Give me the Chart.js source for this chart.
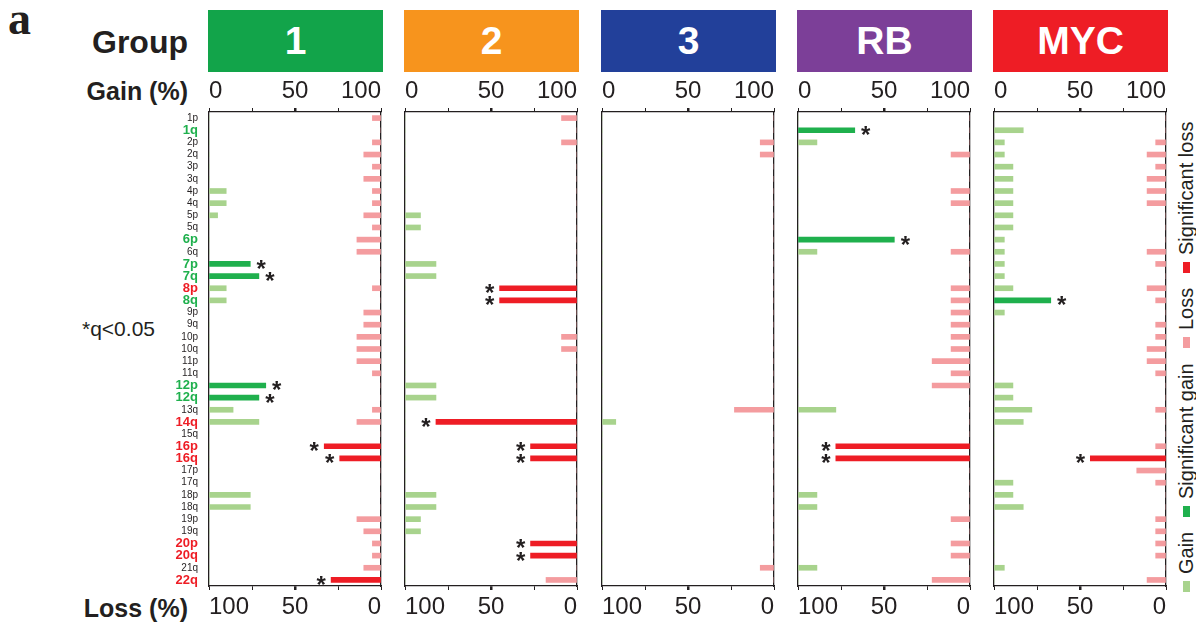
<!DOCTYPE html>
<html>
<head>
<meta charset="utf-8">
<script src="https://cdn.jsdelivr.net/npm/chart.js@4.4.1/dist/chart.umd.min.js"></script>
<style>
  body { margin: 0; background: #fff; font-family: "Liberation Sans", Arial, sans-serif; }
  #page { position: relative; width: 1196px; height: 631px; overflow: hidden; }
  .abs { position: absolute; }
  .lbl { position: absolute; font-weight: bold; color: #231f20; text-align: right; white-space: nowrap; }
  .box { position: absolute; top: 10px; height: 62px; line-height: 62px; color: #fff; font-weight: bold;
         font-size: 39px; text-align: center; }
  canvas { position: absolute; }
  #legend { position: absolute; left: 1175px; top: 106px; height: 486px; writing-mode: vertical-rl;
            transform: rotate(180deg); display: flex; align-items: center; font-size: 20px; color: #231f20; }
  #legend .sq { display: inline-block; width: 7px; height: 11px; }
</style>
</head>
<body>
<div id="page">
  <div class="abs" style="left:8px;top:-8px;font:bold 46px 'Liberation Serif',serif;color:#231f20;">a</div>
  <div class="lbl" style="right:1008px;top:22px;height:40px;line-height:40px;font-size:32px;">Group</div>
  <div class="lbl" style="right:1008px;top:71px;height:40px;line-height:40px;font-size:25px;">Gain (%)</div>
  <div class="lbl" style="right:1008px;top:588px;height:40px;line-height:40px;font-size:25px;">Loss (%)</div>
  <div class="abs" style="left:82px;top:317px;font-size:21px;color:#231f20;">*q&lt;0.05</div>
  <div id="boxes"></div>
  <div id="legend"></div>
</div>
<script>
// chromosome arms (rows, top to bottom)
const arms = ['1p','1q','2p','2q','3p','3q','4p','4q','5p','5q','6p','6q','7p','7q','8p','8q',
  '9p','9q','10p','10q','11p','11q','12p','12q','13q','14q','15q','16p','16q','17p','17q',
  '18p','18q','19p','19q','20p','20q','21q','22q'];

const groupNames = ['1', '2', '3', 'RB', 'MYC'];
const groupColors = ['#12a44a', '#f7941d', '#22409a', '#7c3f98', '#ee1d25'];

// row labels highlighted in the left column
const labelGreen = ['1q','6p','7p','7q','8q','12p','12q'];
const labelRed = ['8p','14q','16p','16q','20p','20q','22q'];

const gainTicks = [0, 25, 50, 75, 100];
const shownTicks = [0, 50, 100];

// percent of samples, per arm
const gain1 = [0,0,0,0,0,0,10,10,5,0,0,0,24,29,10,10,0,0,0,0,0,0,33,29,14,29,0,0,0,0,0,24,24,0,0,0,0,0,0];
const loss1 = [5,0,5,10,5,10,5,5,10,5,14,14,0,0,5,0,10,10,14,14,14,5,0,0,5,14,0,33,24,0,0,0,0,14,10,5,5,10,29];
const sigGain1 = ['7p','7q','12p','12q'];
const sigLoss1 = ['16p','16q','22q'];

const gain2 = [0,0,0,0,0,0,0,0,9,9,0,0,18,18,0,0,0,0,0,0,0,0,18,18,0,0,0,0,0,0,0,18,18,9,9,0,0,0,0];
const loss2 = [9,0,9,0,0,0,0,0,0,0,0,0,0,0,45,45,0,0,9,9,0,0,0,0,0,82,0,27,27,0,0,0,0,0,0,27,27,0,18];
const sigGain2 = [];
const sigLoss2 = ['8p','8q','14q','16p','16q','20p','20q'];

const gain3 = [0,0,0,0,0,0,0,0,0,0,0,0,0,0,0,0,0,0,0,0,0,0,0,0,0,8,0,0,0,0,0,0,0,0,0,0,0,0,0];
const loss3 = [0,0,8,8,0,0,0,0,0,0,0,0,0,0,0,0,0,0,0,0,0,0,0,0,23,0,0,0,0,0,0,0,0,0,0,0,0,8,0];
const sigGain3 = [];
const sigLoss3 = [];

const gainRB = [0,33,11,0,0,0,0,0,0,0,56,11,0,0,0,0,0,0,0,0,0,0,0,0,22,0,0,0,0,0,0,11,11,0,0,0,0,11,0];
const lossRB = [0,0,0,11,0,0,11,11,0,0,0,11,0,0,11,11,11,11,11,11,22,11,22,0,0,0,0,78,78,0,0,0,0,11,0,11,11,0,22];
const sigGainRB = ['1q','6p'];
const sigLossRB = ['16p','16q'];

const gainMYC = [0,17,6,6,11,11,11,11,11,11,6,6,6,6,11,33,6,0,0,0,0,0,11,11,22,17,0,0,0,0,11,11,17,0,0,0,0,6,0];
const lossMYC = [0,0,6,11,6,11,11,11,0,0,0,11,6,0,11,6,0,6,6,11,11,6,0,0,6,0,0,6,44,17,6,0,0,6,6,6,6,0,11];
const sigGainMYC = ['8q'];
const sigLossMYC = ['16q'];

const GAIN = '#a8d38d';
const SIG_GAIN = '#1fb04d';
const LOSS = '#f49c9f';
const SIG_LOSS = '#ee1d25';
const INK = '#231f20';

const panels = [
    { gain: gain1, loss: loss1, sigGain: sigGain1, sigLoss: sigLoss1 },
    { gain: gain2, loss: loss2, sigGain: sigGain2, sigLoss: sigLoss2 },
    { gain: gain3, loss: loss3, sigGain: sigGain3, sigLoss: sigLoss3 },
    { gain: gainRB, loss: lossRB, sigGain: sigGainRB, sigLoss: sigLossRB },
    { gain: gainMYC, loss: lossMYC, sigGain: sigGainMYC, sigLoss: sigLossMYC }
];

const axisLeft = [209, 405, 602, 798, 994];
const axisW = 172;

// =========================
// HEADER BOXES
// =========================

const boxes = document.getElementById('boxes');
groupNames.forEach((name, i) => {
    const d = document.createElement('div');
    d.className = 'box';
    d.style.left = (axisLeft[i] - 1) + 'px';
    d.style.width = (axisW + 3) + 'px';
    d.style.background = groupColors[i];
    d.textContent = name;
    boxes.appendChild(d);
});

// =========================
// LEGEND (rotated)
// =========================

const legendItems = [
    ['Gain', GAIN], ['Significant gain', SIG_GAIN], ['Loss', LOSS], ['Significant loss', SIG_LOSS]
];
const legend = document.getElementById('legend');
legendItems.forEach(([text, color], i) => {
    const sq = document.createElement('span');
    sq.className = 'sq';
    sq.style.background = color;
    sq.style.marginBottom = '7px';
    if (i > 0) sq.style.marginTop = '15px';
    legend.appendChild(sq);
    const t = document.createElement('span');
    t.textContent = text;
    legend.appendChild(t);
});

// =========================
// ASTERISKS
// =========================

const starPlugin = {
    id: 'stars',
    afterDatasetsDraw(chart) {
        const ctx = chart.ctx;
        const sig = chart.options.plugins.stars;
        ctx.save();
        ctx.fillStyle = INK;
        ctx.font = 'bold 24px "Liberation Sans", Arial, sans-serif';
        ctx.textAlign = 'center';
        ctx.textBaseline = 'alphabetic';
        [0, 1].forEach(di => {
            const list = di === 0 ? sig.gain : sig.loss;
            chart.getDatasetMeta(di).data.forEach((bar, j) => {
                if (!list.includes(arms[j])) return;
                const x = di === 0 ? bar.x + 11 : bar.x - 10;
                ctx.fillText('*', x, bar.y + 13);
            });
        });
        ctx.restore();
    }
};

// =========================
// PANELS
// =========================

const TOP = 72, HEIGHT = 559;

panels.forEach((p, i) => {
    const withLabels = i === 0;
    const leftPad = withLabels ? 59 : 8;
    const cv = document.createElement('canvas');
    const w = leftPad + axisW + 8;
    cv.width = w;
    cv.height = HEIGHT;
    cv.style.left = (axisLeft[i] - leftPad) + 'px';
    cv.style.top = TOP + 'px';
    cv.style.width = w + 'px';
    cv.style.height = HEIGHT + 'px';
    document.getElementById('page').appendChild(cv);

    const xTicks = {
        autoSkip: false,
        stepSize: 25,
        align: 'inner',
        maxRotation: 0,
        color: INK,
        font: { size: 24, family: '"Liberation Sans", Arial, sans-serif' },
        callback: v => shownTicks.includes(v) ? String(v) : ''
    };
    const xGrid = {
        drawOnChartArea: false,
        drawTicks: true,
        tickLength: 4,
        color: INK,
        lineWidth: c => (c.tick && c.tick.value === 50) ? 2.5 : 1
    };

    new Chart(cv.getContext('2d'), {
        type: 'bar',
        data: {
            labels: arms,
            datasets: [{
                data: p.gain,
                xAxisID: 'x',
                grouped: false,
                barThickness: 5,
                backgroundColor: arms.map(a => p.sigGain.includes(a) ? SIG_GAIN : GAIN)
            }, {
                data: p.loss,
                xAxisID: 'x2',
                grouped: false,
                barThickness: 5,
                backgroundColor: arms.map(a => p.sigLoss.includes(a) ? SIG_LOSS : LOSS)
            }]
        },
        options: {
            indexAxis: 'y',
            responsive: false,
            animation: false,
            layout: { padding: 0 },
            plugins: {
                legend: { display: false },
                tooltip: { enabled: false },
                stars: { gain: p.sigGain, loss: p.sigLoss }
            },
            scales: {
                x: {
                    position: 'top',
                    min: 0, max: 100,
                    afterBuildTicks: s => { s.ticks = gainTicks.map(v => ({ value: v })); },
                    ticks: Object.assign({ padding: 2 }, xTicks),
                    grid: xGrid,
                    border: { color: INK, width: 1.3 },
                    afterFit: s => { s.height = 40; }
                },
                x2: {
                    position: 'bottom',
                    reverse: true,
                    min: 0, max: 100,
                    afterBuildTicks: s => { s.ticks = gainTicks.map(v => ({ value: v })); },
                    ticks: Object.assign({ padding: 3 }, xTicks),
                    grid: xGrid,
                    border: { color: INK, width: 1.3 },
                    afterFit: s => { s.height = 45; }
                },
                y: {
                    position: 'left',
                    offset: true,
                    grid: { display: false, drawTicks: false },
                    border: { display: true, color: INK, width: 1.3 },
                    ticks: {
                        display: withLabels,
                        autoSkip: false,
                        padding: 11,
                        color: c => labelGreen.includes(arms[c.index]) ? SIG_GAIN
                            : labelRed.includes(arms[c.index]) ? SIG_LOSS : INK,
                        font: c => (labelGreen.includes(arms[c.index]) || labelRed.includes(arms[c.index]))
                            ? { size: 13, weight: 'bold', family: '"Liberation Sans", Arial, sans-serif' }
                            : { size: 10, family: '"Liberation Sans", Arial, sans-serif' }
                    },
                    afterFit: s => { s.width = leftPad; }
                },
                y2: {
                    type: 'category',
                    labels: arms,
                    position: 'right',
                    offset: true,
                    grid: { display: false, drawTicks: false },
                    border: { display: true, color: INK, width: 1.3 },
                    ticks: { display: false },
                    afterFit: s => { s.width = 8; }
                }
            }
        },
        plugins: [starPlugin]
    });
});
</script>
</body>
</html>
